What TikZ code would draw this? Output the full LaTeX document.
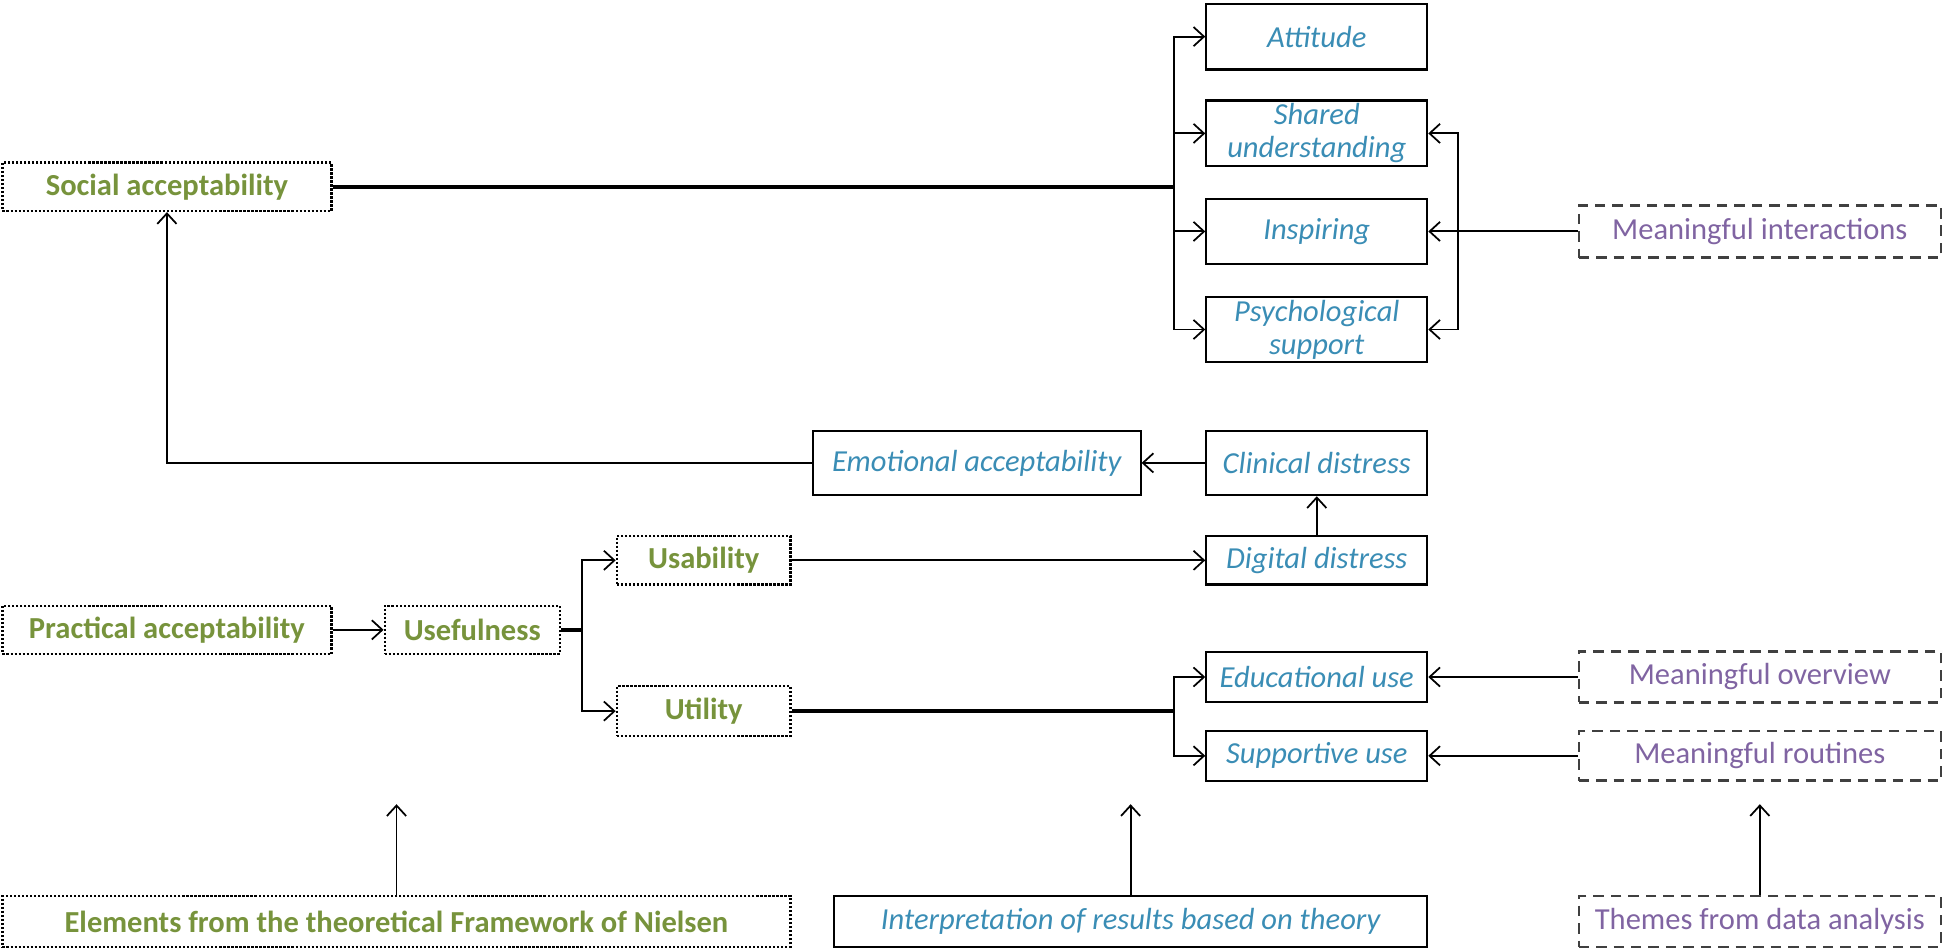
\documentclass[tikz,border=0pt]{standalone}
\usepackage{fontspec}
\setmainfont{Carlito}
\usetikzlibrary{arrows.meta}
\definecolor{gtext}{HTML}{77933C}
\definecolor{btext}{HTML}{3A8DB5}
\definecolor{ptext}{HTML}{8064A2}
\definecolor{dline}{HTML}{404040}
\tikzset{
  u/.style={x=0.025cm,y=-0.025cm},
  boxbase/.style={rectangle,inner sep=0pt,align=center,font=\fontsize{17.5}{19}\selectfont},
  theory/.style={boxbase,draw=black,densely dotted,line width=1.3pt,text=gtext,font=\fontsize{17.5}{19}\selectfont\bfseries},
  interp/.style={boxbase,draw=black,line width=1.2pt,text=btext,font=\fontsize{17.5}{19}\selectfont\itshape},
  theme/.style={boxbase,draw=dline,dash pattern=on 6pt off 4pt,line width=1.3pt,text=ptext},
  conn/.style={line width=1.1pt,draw=black},
  trunk/.style={line width=2pt,draw=black},
  arr/.style={conn,-{Straight Barb[length=6pt,width=11pt,line width=1pt]}},
}
\begin{document}
\begin{tikzpicture}[u]
\useasboundingbox (0,0) rectangle (1568,766);
% theory (green, dotted)
\node[theory,minimum width=265*0.025cm,minimum height=39*0.025cm] (soc) at (134.5,150.5) {Social acceptability};
\node[theory,minimum width=265*0.025cm,minimum height=39*0.025cm] (pra) at (134.5,507.5) {Practical acceptability};
\node[theory,minimum width=141*0.025cm,minimum height=39*0.025cm] (usef) at (380.5,507.5) {Usefulness};
\node[theory,minimum width=140*0.025cm,minimum height=39*0.025cm] (usa) at (567,451.5) {Usability};
\node[theory,minimum width=140*0.025cm,minimum height=40*0.025cm] (uti) at (567,573) {Utility};
\node[theory,minimum width=635*0.025cm,minimum height=41*0.025cm] (ele) at (319.5,742.5) {Elements from the theoretical Framework of Nielsen};
% interpretation (blue, solid)
\node[interp,minimum width=178*0.025cm,minimum height=53*0.025cm] (att) at (1061,29.5) {Attitude};
\node[interp,minimum width=178*0.025cm,minimum height=53*0.025cm,text width=170*0.025cm] (shu) at (1061,107.5) {Shared\\understanding};
\node[interp,minimum width=178*0.025cm,minimum height=53*0.025cm] (ins) at (1061,186.5) {Inspiring};
\node[interp,minimum width=178*0.025cm,minimum height=53*0.025cm,text width=170*0.025cm] (psy) at (1061,265.5) {Psychological\\support};
\node[interp,minimum width=264*0.025cm,minimum height=52*0.025cm] (emo) at (787,373) {Emotional acceptability};
\node[interp,minimum width=178*0.025cm,minimum height=52*0.025cm] (cli) at (1061,373) {Clinical distress};
\node[interp,minimum width=178*0.025cm,minimum height=39*0.025cm] (dig) at (1061,451.5) {Digital distress};
\node[interp,minimum width=178*0.025cm,minimum height=41*0.025cm] (edu) at (1061,545.5) {Educational use};
\node[interp,minimum width=178*0.025cm,minimum height=40*0.025cm] (sup) at (1061,609) {Supportive use};
\node[interp,minimum width=478*0.025cm,minimum height=41*0.025cm] (int) at (911,742.5) {Interpretation of results based on theory};
% themes (purple, dashed)
\node[theme,minimum width=292*0.025cm,minimum height=42*0.025cm] (mint) at (1418,186.5) {Meaningful interactions};
\node[theme,minimum width=292*0.025cm,minimum height=41*0.025cm] (mov) at (1418,545.5) {Meaningful overview};
\node[theme,minimum width=292*0.025cm,minimum height=40*0.025cm] (mrou) at (1418,609) {Meaningful routines};
\node[theme,minimum width=292*0.025cm,minimum height=41*0.025cm] (the) at (1418,742.5) {Themes from data analysis};
% branch points
\coordinate (bS) at (946,150.5);
\coordinate (bM) at (1175,186.5);
\coordinate (bU) at (469,507.5);
\coordinate (bT) at (946,573);
\coordinate (e1) at (319.5,648);
\coordinate (e2) at (911,648);
\coordinate (e3) at (1418,648);
% social acceptability branch
\draw[trunk] (soc.east) -- (bS);
\draw[arr] (bS) |- (att.west);
\draw[arr] (bS) |- (shu.west);
\draw[arr] (bS) |- (ins.west);
\draw[arr] (bS) |- (psy.west);
% meaningful interactions
\draw[arr] (mint.west) -- (ins.east);
\draw[arr] (bM) |- (shu.east);
\draw[arr] (bM) |- (psy.east);
% emotional chain
\draw[arr] (cli.west) -- (emo.east);
\draw[arr] (emo.west) -| (soc.south);
\draw[arr] (dig.north) -- (cli.south);
\draw[arr] (usa.east) -- (dig.west);
% practical branch
\draw[arr] (pra.east) -- (usef.west);
\draw[trunk] (usef.east) -- (bU);
\draw[arr] (bU) |- (usa.west);
\draw[arr] (bU) |- (uti.west);
\draw[trunk] (uti.east) -- (bT);
\draw[arr] (bT) |- (edu.west);
\draw[arr] (bT) |- (sup.west);
\draw[arr] (mov.west) -- (edu.east);
\draw[arr] (mrou.west) -- (sup.east);
% legend arrows
\draw[arr] (ele.north) -- (e1);
\draw[arr] (int.north) -- (e2);
\draw[arr] (the.north) -- (e3);
\end{tikzpicture}
\end{document}
